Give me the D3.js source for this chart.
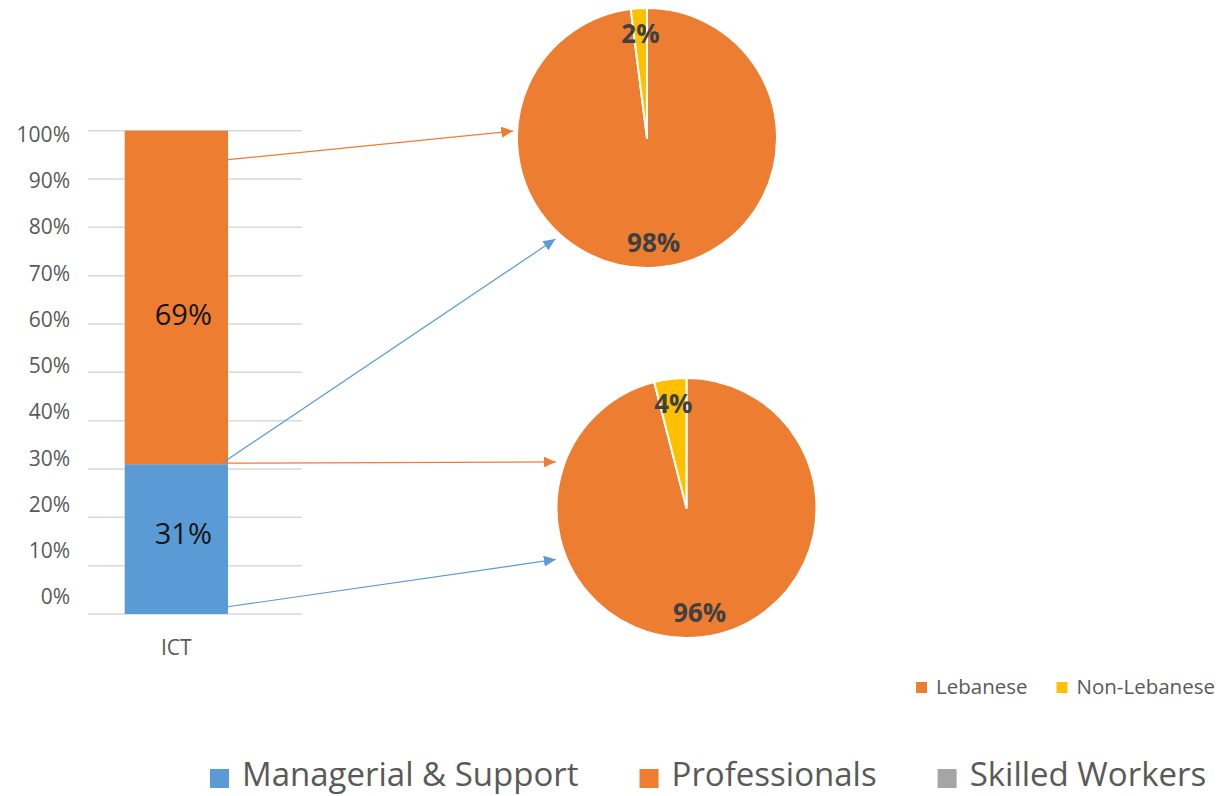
<!DOCTYPE html>
<html>
<head>
<meta charset="utf-8">
<script src="https://cdn.jsdelivr.net/npm/d3@7"></script>
<style>
  html, body { margin: 0; padding: 0; background: #fff; }
  svg { display: block; font-family: "Open Sans", "Noto Sans", sans-serif; }
</style>
</head>
<body>
<svg id="chart" width="1221" height="796"></svg>
<script>
// ---------------- data ----------------
const categories = ["ICT"];
const barSeries = ["Managerial & Support", "Professionals", "Skilled Workers"];
const barValues = [0.31, 0.69, 0.0];
const barLabels = ["31%", "69%", ""];
const yTicks = [0, 0.1, 0.2, 0.3, 0.4, 0.5, 0.6, 0.7, 0.8, 0.9, 1.0];
const yTickLabels = ["0%", "10%", "20%", "30%", "40%", "50%", "60%", "70%", "80%", "90%", "100%"];

const pieCategories = ["Lebanese", "Non-Lebanese"];
const pieProfessionals = [0.98, 0.02];
const pieManagerial = [0.96, 0.04];
const pieProfessionalsLabels = ["98%", "2%"];
const pieManagerialLabels = ["96%", "4%"];

// ---------------- styles ----------------
const barColors = ["#5B9BD5", "#ED7D31", "#A5A5A5"];
const pieColors = ["#ED7D31", "#FFC000"];
const textGray = "#595959";
const barLabelShift = [-6, 17, 0];   // vertical nudges of bar value labels (px)

const svg = d3.select("#chart");
svg.append("rect").attr("width", 1221).attr("height", 796).attr("fill", "#fff");

// ---------------- bar chart ----------------
const gridLeft = 88, gridRight = 302;
const y = d3.scaleLinear().domain([0, 1]).range([614, 130.7]);
// tick labels in the reference sit on a slightly compressed scale
const yLabel = d3.scaleLinear().domain([0, 1]).range([596.7, 134.2]);
const x = d3.scaleBand().domain(categories).range([gridLeft, 264.7]).paddingInner(0).paddingOuter(0.355);

const grid = svg.append("g");
grid.selectAll("line").data(yTicks).join("line")
  .attr("x1", gridLeft).attr("x2", gridRight)
  .attr("y1", d => y(d)).attr("y2", d => y(d))
  .attr("stroke", "#d9d9d9").attr("stroke-width", 1.5);

svg.append("g").selectAll("text").data(yTicks).join("text")
  .attr("x", 70).attr("y", d => yLabel(d))
  .attr("dy", "0.36em")
  .attr("text-anchor", "end")
  .attr("font-size", 21)
  .attr("fill", textGray)
  .text((d, i) => yTickLabels[i]);

// stack
const stackRow = {};
barSeries.forEach((s, i) => stackRow[s] = barValues[i]);
stackRow.cat = categories[0];
const stacked = d3.stack().keys(barSeries)([stackRow]);

const bars = svg.append("g");
stacked.forEach((layer, i) => {
  layer.forEach(d => {
    bars.append("rect")
      .attr("x", x(d.data.cat))
      .attr("width", x.bandwidth())
      .attr("y", y(d[1]))
      .attr("height", Math.max(0, y(d[0]) - y(d[1])))
      .attr("fill", barColors[i]);
    if (barLabels[i]) {
      bars.append("text")
        .attr("x", x(d.data.cat) + x.bandwidth() / 2 + 7)
        .attr("y", (y(d[0]) + y(d[1])) / 2 + barLabelShift[i])
        .attr("dy", "0.36em")
        .attr("text-anchor", "middle")
        .attr("font-size", 29)
        .attr("fill", "#141414")
        .text(barLabels[i]);
    }
  });
});

svg.append("text")
  .attr("x", x(categories[0]) + x.bandwidth() / 2)
  .attr("y", 647)
  .attr("dy", "0.36em")
  .attr("text-anchor", "middle")
  .attr("font-size", 21)
  .attr("fill", textGray)
  .text(categories[0]);

// ---------------- pies ----------------
const pieR = 130;
const pies = [
  { cx: 647, cy: 138, values: pieProfessionals, labels: pieProfessionalsLabels },
  { cx: 686.5, cy: 508, values: pieManagerial, labels: pieManagerialLabels }
];
const pieGen = d3.pie().sort(null).value(d => d);
const arcGen = d3.arc().innerRadius(0).outerRadius(pieR);
const labelArc = d3.arc().innerRadius(105).outerRadius(105);

pies.forEach(p => {
  const g = svg.append("g").attr("transform", `translate(${p.cx},${p.cy})`);
  const arcs = pieGen(p.values);
  g.selectAll("path").data(arcs).join("path")
    .attr("d", arcGen)
    .attr("fill", (d, i) => pieColors[i])
    .attr("stroke", "#fff")
    .attr("stroke-width", 2)
    .attr("stroke-linejoin", "round");
  g.selectAll("text").data(arcs).join("text")
    .attr("transform", d => `translate(${labelArc.centroid(d)})`)
    .attr("dy", "0.36em")
    .attr("text-anchor", "middle")
    .attr("font-size", 26)
    .attr("font-weight", "bold")
    .attr("fill", "#404040")
    .text((d, i) => p.labels[i]);
});

// ---------------- connector arrows ----------------
const defs = svg.append("defs");
[["arrowOrange", "#ED7D31"], ["arrowBlue", "#5B9BD5"]].forEach(([id, c]) => {
  defs.append("marker")
    .attr("id", id)
    .attr("viewBox", "0 0 12 11")
    .attr("refX", 12).attr("refY", 5.5)
    .attr("markerWidth", 12).attr("markerHeight", 11)
    .attr("markerUnits", "userSpaceOnUse")
    .attr("orient", "auto")
    .append("path").attr("d", "M0,0 L12,5.5 L0,11 Z").attr("fill", c);
});

const barRight = x(categories[0]) + x.bandwidth();
const links = [
  { v: 0.94, inset: 0, pie: 0, ang: 273, rf: 1.03, color: "#ED7D31", m: "arrowOrange" },
  { v: 0.31, inset: 6, pie: 0, ang: 222.2, rf: 1.05, color: "#5B9BD5", m: "arrowBlue" },
  { v: 0.31, inset: 7, pie: 1, ang: 289.4, rf: 1.067, color: "#ED7D31", m: "arrowOrange" },
  { v: 0.015, inset: 0, pie: 1, ang: 248.5, rf: 1.08, color: "#5B9BD5", m: "arrowBlue" }
];
svg.append("g").selectAll("line").data(links).join("line")
  .attr("x1", d => barRight - d.inset)
  .attr("y1", d => y(d.v) - (d.inset ? 1 : 0))
  .attr("x2", d => pies[d.pie].cx + Math.sin(d.ang * Math.PI / 180) * pieR * d.rf)
  .attr("y2", d => pies[d.pie].cy - Math.cos(d.ang * Math.PI / 180) * pieR * d.rf)
  .attr("stroke", d => d.color)
  .attr("stroke-width", 1.2)
  .attr("marker-end", d => `url(#${d.m})`);

// ---------------- pie legend ----------------
const pieLeg = svg.append("g");
let px = 916;
pieCategories.forEach((c, i) => {
  pieLeg.append("rect").attr("x", px).attr("y", 682).attr("width", 11).attr("height", 11).attr("fill", pieColors[i]);
  const t = pieLeg.append("text").attr("x", px + 20).attr("y", 694)
    .attr("font-size", 20.5).attr("fill", textGray).text(c);
  px = px + 20 + t.node().getComputedTextLength() + 29;
});

// ---------------- bar legend ----------------
const barLeg = svg.append("g");
let bx = 210;
barSeries.forEach((s, i) => {
  barLeg.append("rect").attr("x", bx).attr("y", 769).attr("width", 19).attr("height", 19).attr("fill", barColors[i]);
  const t = barLeg.append("text").attr("x", bx + 32).attr("y", 786)
    .attr("font-size", 33).attr("fill", textGray).text(s);
  bx = bx + 32 + t.node().getComputedTextLength() + 61;
});
</script>
</body>
</html>
